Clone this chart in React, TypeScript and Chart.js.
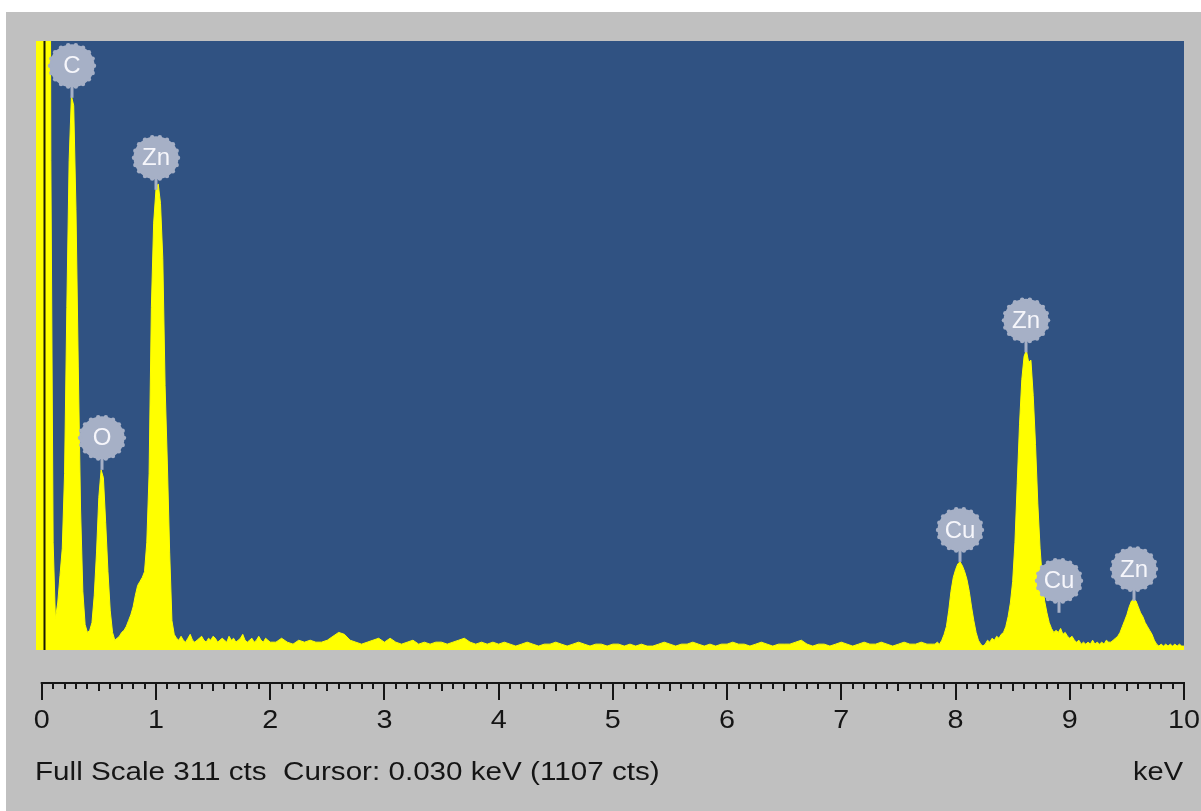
import { useEffect, useRef } from 'react';
import { Chart, registerables } from 'chart.js';

Chart.register(...registerables);

// ---- Spectrum data (counts per channel) ----
// Low-energy segment: -0.06 .. 2.00 keV, 0.02 keV channels
const lowStart = -0.06;
const lowStep = 0.02;
const lowCounts = [
  420, 780, 960, 1050, 1107, 1090, 720, 250, 55, 16,
  24, 38, 52, 90, 175, 250, 283, 278, 225, 145,
  72, 30, 13, 9, 10, 14, 28, 50, 78, 92,
  88, 65, 40, 20, 9, 5, 6, 7, 9, 10,
  12, 15, 18, 22, 28, 33, 35, 37, 40, 55,
  90, 175, 218, 235, 238, 228, 200, 135, 95, 50,
  15, 8,
  6, 5, 7, 5, 4, 6, 8, 5, 4, 5,
  6, 7, 5, 4, 6, 5, 7, 6, 4, 5,
  6, 5, 4, 7, 5, 6, 4, 5, 6, 8,
  5, 4, 5, 6, 4, 5, 7, 5, 4, 6,
  5, 4,
];

// Middle segment: 2.05 .. 7.80 keV, 0.05 keV channels
const midStart = 2.05;
const midStep = 0.05;
const midCounts = [
  4, 6, 4, 3, 5, 4, 5, 4, 4, 5,
  7, 9, 8, 5, 4, 3, 4, 5, 6, 4,
  6, 4, 3, 4, 5, 3, 4, 3, 4, 4,
  3, 4, 5, 6, 4, 3, 4, 3, 4, 3,
  4, 3, 2, 3, 4, 3, 2, 3, 3, 4,
  3, 2, 3, 4, 3, 2, 3, 3, 2, 3,
  3, 2, 3, 2, 3, 2, 2, 3, 4, 3,
  2, 3, 3, 4, 3, 2, 3, 2, 3, 3,
  4, 3, 3, 2, 3, 4, 3, 2, 3, 3,
  3, 4, 5, 3, 2, 3, 3, 2, 3, 4,
  3, 2, 3, 4, 3, 3, 4, 3, 2, 3,
  4, 3, 3, 4, 3, 3,
];

// High-energy segment: 7.82 .. 10.00 keV, 0.02 keV channels
const highStart = 7.82;
const highStep = 0.02;
const highCounts = [
  3, 4, 3, 5, 8, 12, 20, 30, 37, 41,
  44, 45, 43, 40, 36, 30, 22, 15, 9, 5,
  3, 2, 3, 5, 4, 6, 5, 7, 6, 8,
  9, 12, 17, 24, 35, 55, 85, 115, 138, 150,
  153, 147, 148, 130, 105, 75, 52, 36, 25, 19,
  14, 11, 9, 10, 9, 11, 8, 9, 7, 6,
  7, 5, 4, 5, 3, 4, 3, 4, 3, 5,
  3, 4, 3, 4, 3, 5, 4, 4, 5, 6,
  7, 9, 12, 15, 18, 22, 25, 26, 25, 22,
  19, 17, 14, 12, 10, 8, 5, 3, 2, 3,
  2, 3, 2, 3, 2, 3, 2, 3, 2, 2,
];

// ---- Axis ----
const xMin = -0.05;
const xMax = 10;
const fullScale = 311;
const majorTicks = [0, 1, 2, 3, 4, 5, 6, 7, 8, 9, 10];
const tickLabels = ['0', '1', '2', '3', '4', '5', '6', '7', '8', '9', '10'];
const minorStep = 0.1;
const unitLabel = 'keV';
const statusText = 'Full Scale 311 cts  Cursor: 0.030 keV (1107 cts)';
const cursorEnergy = 0.03;

// ---- Peak identification labels ----
const peakNames = ['C', 'O', 'Zn', 'Cu', 'Zn', 'Cu', 'Zn'];
const peakEnergies = [0.265, 0.525, 1.0, 8.035, 8.615, 8.91, 9.565];
const peakStemCounts = [282, 92, 235, 45, 152, 19, 25];

function segmentPoints(start: number, step: number, counts: number[]) {
  return counts.map((c, i) => ({ x: Math.round((start + i * step) * 1000) / 1000, y: c }));
}

function drawStretched(
  ctx: CanvasRenderingContext2D,
  text: string,
  x: number,
  y: number,
  align: CanvasTextAlign,
  sx: number
) {
  ctx.save();
  ctx.translate(x, y);
  ctx.scale(sx, 1);
  ctx.textAlign = align;
  ctx.fillText(text, 0, 0);
  ctx.restore();
}

const spectrumPlugin = {
  id: 'edsSpectrum',
  beforeDraw(chart: any) {
    const { ctx, chartArea: a, width, height } = chart;
    ctx.save();
    ctx.fillStyle = '#ffffff';
    ctx.fillRect(0, 0, width, height);
    ctx.fillStyle = '#c0c0c0';
    ctx.fillRect(6, 12, width - 6, height - 12);
    ctx.fillStyle = '#305282';
    ctx.fillRect(a.left, a.top, a.right - a.left, a.bottom - a.top);
    ctx.restore();
  },
  afterDatasetsDraw(chart: any) {
    const { ctx, chartArea: a, scales } = chart;
    const cx = Math.round(scales.x.getPixelForValue(cursorEnergy)) - 0.5;
    ctx.save();
    ctx.strokeStyle = '#1a1a05';
    ctx.lineWidth = 2;
    ctx.beginPath();
    ctx.moveTo(cx, a.top);
    ctx.lineTo(cx, a.bottom);
    ctx.stroke();
    ctx.restore();
  },
  afterDraw(chart: any) {
    const { ctx, scales } = chart;
    const xs = scales.x;
    const ys = scales.y;

    // peak labels
    ctx.save();
    const circleColor = '#a6b0c6';
    for (let i = 0; i < peakNames.length; i++) {
      const px = Math.round(xs.getPixelForValue(peakEnergies[i]));
      const sb = ys.getPixelForValue(peakStemCounts[i]);
      const cy = sb - 32;
      ctx.strokeStyle = circleColor;
      ctx.lineWidth = 3;
      ctx.beginPath();
      ctx.moveTo(px, cy);
      ctx.lineTo(px, sb);
      ctx.stroke();
      ctx.fillStyle = circleColor;
      ctx.beginPath();
      ctx.ellipse(px, cy, 22.5, 21.5, 0, 0, Math.PI * 2);
      ctx.fill();
      for (let k = 0; k < 18; k++) {
        const ang = (k / 18) * Math.PI * 2;
        ctx.beginPath();
        ctx.arc(px + Math.cos(ang) * 22, cy + Math.sin(ang) * 21, 2.2, 0, Math.PI * 2);
        ctx.fill();
      }
      ctx.fillStyle = '#f6f6fb';
      ctx.font = '24px "Liberation Sans", Arial, sans-serif';
      ctx.textBaseline = 'middle';
      drawStretched(ctx, peakNames[i], px, cy + 1, 'center', 1.0);
    }
    ctx.restore();

    // x axis
    const axisY = 683;
    ctx.save();
    ctx.strokeStyle = '#151515';
    ctx.fillStyle = '#151515';
    ctx.lineWidth = 2;
    const x0 = xs.getPixelForValue(majorTicks[0]);
    const x1 = xs.getPixelForValue(majorTicks[majorTicks.length - 1]);
    ctx.beginPath();
    ctx.moveTo(x0 - 1, axisY);
    ctx.lineTo(x1 + 1, axisY);
    ctx.stroke();
    const nMinor = Math.round((majorTicks[majorTicks.length - 1] - majorTicks[0]) / minorStep);
    for (let k = 0; k <= nMinor; k++) {
      const v = majorTicks[0] + k * minorStep;
      const px = Math.round(xs.getPixelForValue(v));
      const len = k % 10 === 0 ? 17 : k % 5 === 0 ? 8 : 6;
      ctx.beginPath();
      ctx.moveTo(px, axisY);
      ctx.lineTo(px, axisY + len);
      ctx.stroke();
    }
    ctx.font = '25px "Liberation Sans", Arial, sans-serif';
    ctx.textBaseline = 'alphabetic';
    for (let i = 0; i < majorTicks.length; i++) {
      const px = xs.getPixelForValue(majorTicks[i]);
      drawStretched(ctx, tickLabels[i], px, 728, 'center', 1.15);
    }
    drawStretched(ctx, statusText, 35, 780, 'left', 1.185);
    drawStretched(ctx, unitLabel, 1183, 780, 'right', 1.16);
    ctx.restore();
  },
};

export default function App() {
  const canvasRef = useRef<HTMLCanvasElement | null>(null);

  useEffect(() => {
    document.body.style.margin = '0';
    const canvas = canvasRef.current;
    if (!canvas) return;
    const points = [
      ...segmentPoints(lowStart, lowStep, lowCounts),
      ...segmentPoints(midStart, midStep, midCounts),
      ...segmentPoints(highStart, highStep, highCounts),
    ];
    const chart = new Chart(canvas, {
      type: 'line',
      data: {
        datasets: [
          {
            data: points,
            borderColor: '#ffff00',
            backgroundColor: '#ffff00',
            borderWidth: 1,
            pointRadius: 0,
            fill: 'origin',
            tension: 0,
          },
        ],
      },
      options: {
        animation: false,
        responsive: false,
        devicePixelRatio: 1,
        events: [],
        layout: { padding: { left: 36, top: 41, right: 17, bottom: 161 } },
        plugins: {
          legend: { display: false },
          title: { display: false },
          tooltip: { enabled: false },
        },
        scales: {
          x: { type: 'linear', min: xMin, max: xMax, display: false },
          y: { type: 'linear', min: 0, max: fullScale, display: false },
        },
      },
      plugins: [spectrumPlugin],
    });
    return () => chart.destroy();
  }, []);

  return (
    <div style={{ width: 1201, height: 811 }}>
      <canvas ref={canvasRef} width={1201} height={811} style={{ display: 'block' }} />
    </div>
  );
}
